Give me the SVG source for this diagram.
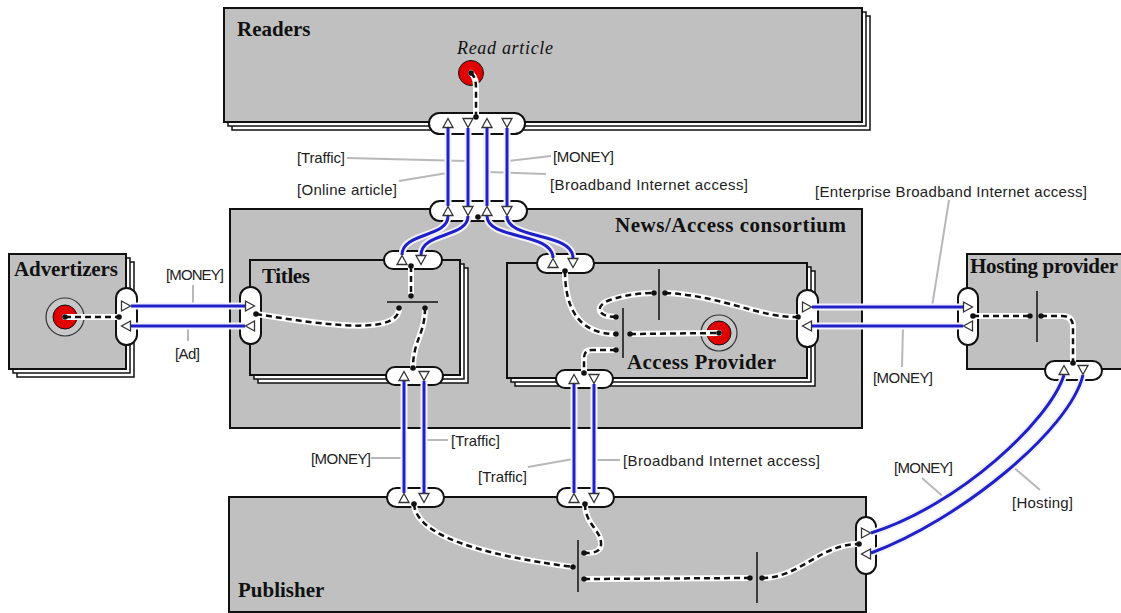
<svg xmlns="http://www.w3.org/2000/svg" width="1121" height="613" viewBox="0 0 1121 613">
<style>
.box{fill:#c0c0c0;stroke:#111;stroke-width:2}
.sh{fill:#fff;stroke:#111;stroke-width:1.5}
.pill{fill:#fff;stroke:#111;stroke-width:2}
.halo{fill:none;stroke:#f2f2ff;stroke-width:7}
.blue{fill:none;stroke:#2020c8;stroke-width:3}
.dh{fill:none;stroke:#fff;stroke-width:6;stroke-linecap:round}
.dash{fill:none;stroke:#111;stroke-width:2.5;stroke-dasharray:6 4}
.bar{stroke:#111;stroke-width:1.5}
.tri{fill:#fff;stroke:#333;stroke-width:1.3}
.lead{stroke:#b8b8b8;stroke-width:2;fill:none}
.lbl{font-family:"Liberation Sans",Arial,sans-serif;font-size:15px;fill:#222}
.ttl{font-family:"Liberation Serif","Times New Roman",serif;font-size:21px;font-weight:bold;fill:#111}
.it{font-family:"Liberation Serif","Times New Roman",serif;font-size:18px;font-style:italic;fill:#111}
.dot{fill:#111}
.red{fill:#e00000;stroke:#111;stroke-width:1}
.ring{fill:#c8c8c8;stroke:#333;stroke-width:1.2}
</style>
<defs>
<path id="tu" class="tri" d="M0,-4.5 L5,4.5 L-5,4.5 Z"/>
<path id="td" class="tri" d="M-5,-4.5 L5,-4.5 L0,4.5 Z"/>
<path id="tr" class="tri" d="M-4.5,-5 L4.5,0 L-4.5,5 Z"/>
<path id="tl" class="tri" d="M4.5,-5 L-4.5,0 L4.5,5 Z"/>
</defs>

<g id="readers">
<rect class="sh" x="232" y="16" width="638" height="114"/>
<rect class="sh" x="228" y="12" width="638" height="114"/>
<rect class="box" x="224" y="8" width="638" height="114"/>
<text class="ttl" x="237" y="36">Readers</text>
<text class="it" x="457" y="54" textLength="96">Read article</text>
<circle class="red" cx="471" cy="73" r="12.5"/>
<rect class="pill" x="429" y="113" width="96" height="21" rx="10.5"/>
</g>

<g id="advertizers">
<rect class="sh" x="17" y="262" width="117" height="115"/>
<rect class="sh" x="13" y="258" width="117" height="115"/>
<rect class="box" x="9" y="254" width="117" height="115"/>
<text class="ttl" x="14" y="276" textLength="104">Advertizers</text>
<circle class="ring" cx="65" cy="317" r="19"/>
<circle class="red" cx="65" cy="317" r="12"/>
<rect class="pill" x="116" y="288" width="21" height="57" rx="10.5"/>
</g>

<g id="news-access-consortium">
<rect class="box" x="230" y="209" width="632" height="219"/>
<text class="ttl" x="615" y="232" textLength="231">News/Access consortium</text>
<rect class="pill" x="430" y="201" width="97" height="20" rx="10"/>
</g>

<g id="titles">
<rect class="sh" x="258" y="268" width="210" height="115"/>
<rect class="sh" x="254" y="264" width="210" height="115"/>
<rect class="box" x="250" y="260" width="210" height="115"/>
<text class="ttl" x="262" y="283" textLength="48">Titles</text>
<line class="bar" x1="387" y1="302" x2="438" y2="302"/>
<rect class="pill" x="384" y="251" width="58" height="18" rx="9"/>
<rect class="pill" x="240" y="287" width="21" height="57" rx="10.5"/>
<rect class="pill" x="386" y="367" width="57" height="18" rx="9"/>
</g>

<g id="access-provider">
<rect class="sh" x="515" y="271" width="300" height="115"/>
<rect class="sh" x="511" y="267" width="300" height="115"/>
<rect class="box" x="507" y="263" width="300" height="115"/>
<text class="ttl" x="627" y="369" textLength="149">Access Provider</text>
<line class="bar" x1="623" y1="308" x2="623" y2="358"/>
<line class="bar" x1="659" y1="269" x2="659" y2="320"/>
<circle class="ring" cx="719" cy="333" r="18"/>
<circle class="red" cx="719" cy="333" r="12"/>
<rect class="pill" x="537" y="254" width="57" height="19" rx="9.5"/>
<rect class="pill" x="797" y="290" width="21" height="57" rx="10.5"/>
<rect class="pill" x="556" y="370" width="57" height="18" rx="9"/>
</g>

<g id="hosting-provider">
<rect class="box" x="967" y="254" width="200" height="115"/>
<text class="ttl" x="970" y="273" textLength="148">Hosting provider</text>
<line class="bar" x1="1037" y1="291" x2="1037" y2="342"/>
<rect class="pill" x="958" y="288" width="20" height="57" rx="10"/>
<rect class="pill" x="1045" y="361" width="57" height="19" rx="9.5"/>
</g>

<g id="publisher">
<rect class="box" x="229" y="497" width="637" height="115"/>
<text class="ttl" x="238" y="597">Publisher</text>
<line class="bar" x1="578" y1="540" x2="578" y2="592"/>
<line class="bar" x1="757" y1="552" x2="757" y2="603"/>
<rect class="pill" x="387" y="488" width="57" height="19" rx="9.5"/>
<rect class="pill" x="557" y="488" width="57" height="19" rx="9.5"/>
<rect class="pill" x="856" y="517" width="20" height="57" rx="10"/>
</g>

<g id="connectors">
<g id="leaders">
<line class="lead" x1="347" y1="158" x2="466" y2="161"/>
<line class="lead" x1="399" y1="181" x2="447" y2="173"/>
<line class="lead" x1="551" y1="156" x2="508" y2="161"/>
<line class="lead" x1="487" y1="172" x2="546" y2="174"/>
<line class="lead" x1="193" y1="285" x2="193" y2="306"/>
<line class="lead" x1="188" y1="326" x2="188" y2="341"/>
<line class="lead" x1="949" y1="200" x2="932" y2="307"/>
<line class="lead" x1="902" y1="367" x2="903" y2="326"/>
<line class="lead" x1="424" y1="440" x2="448" y2="440"/>
<line class="lead" x1="371" y1="458" x2="404" y2="458"/>
<line class="lead" x1="528" y1="467" x2="573" y2="459"/>
<line class="lead" x1="594" y1="460" x2="620" y2="460"/>
<line class="lead" x1="922" y1="478" x2="947" y2="500"/>
<line class="lead" x1="1012" y1="466" x2="1040" y2="490"/>
</g>
<g id="flows">
<path class="halo" d="M448,128 V206 M468,128 V206 M487,128 V206 M507,128 V206"/>
<path class="blue" d="M448,128 V206 M468,128 V206 M487,128 V206 M507,128 V206"/>
<path class="halo" d="M448,216 C448,238 402,232 402,255 M468,216 C468,238 421,232 421,255 M487,216 C487,240 553,232 553,258 M507,216 C507,240 573,232 573,258"/>
<path class="blue" d="M448,216 C448,238 402,232 402,255 M468,216 C468,238 421,232 421,255 M487,216 C487,240 553,232 553,258 M507,216 C507,240 573,232 573,258"/>
<path class="halo" d="M131,306 H245 M131,326 H245"/>
<path class="blue" d="M131,306 H245 M131,326 H245"/>
<path class="halo" d="M812,307 H963 M812,326 H963"/>
<path class="blue" d="M812,307 H963 M812,326 H963"/>
<path class="halo" d="M404,381 V493 M424,381 V493 M574,384 V493 M594,384 V493"/>
<path class="blue" d="M404,381 V493 M424,381 V493 M574,384 V493 M594,384 V493"/>
<path class="halo" d="M1064,375 C1050,420 960,505 871,533 M1083,375 C1070,430 960,520 871,553"/>
<path class="blue" d="M1064,375 C1050,420 960,505 871,533 M1083,375 C1070,430 960,520 871,553"/>
</g>
<g id="links">
<path class="dh" d="M471,73 C476,78 476,82 476,92 L476,117"/>
<path class="dash" d="M471,73 C476,78 476,82 476,92 L476,117"/>
<path class="dh" d="M65,317 L119,317"/>
<path class="dash" d="M65,317 L119,317"/>
<path class="dh" d="M256,314 C330,326 399,335 399,308 M411,266 L411,296 M425,308 C425,335 413,340 413,368"/>
<path class="dash" d="M256,314 C330,326 399,335 399,308 M411,266 L411,296 M425,308 C425,335 413,340 413,368"/>
<path class="dh" d="M565,271 C565,310 580,334 616,334 M616,317 C596,317 595,305 610,300 C625,295 640,293 654,293 M630,334 L719,333 M665,293 C720,295 760,318 798,317 M616,350 L592,350 Q584,350 584,358 L584,373"/>
<path class="dash" d="M565,271 C565,310 580,334 616,334 M616,317 C596,317 595,305 610,300 C625,295 640,293 654,293 M630,334 L719,333 M665,293 C720,295 760,318 798,317 M616,350 L592,350 Q584,350 584,358 L584,373"/>
<path class="dh" d="M973,316 L1030,316 M1041,316 L1062,316 Q1073,316 1073,327 L1073,363"/>
<path class="dash" d="M973,316 L1030,316 M1041,316 L1062,316 Q1073,316 1073,327 L1073,363"/>
<path class="dh" d="M414,504 C416,535 480,555 573,567 M585,504 C585,525 602,530 601,545 C600,553 592,553 584,553 M584,579 L750,578 M762,578 C800,578 820,544 859,544"/>
<path class="dash" d="M414,504 C416,535 480,555 573,567 M585,504 C585,525 602,530 601,545 C600,553 592,553 584,553 M584,579 L750,578 M762,578 C800,578 820,544 859,544"/>
</g>
<g id="labels">
<text class="lbl" x="297" y="163" textLength="48">[Traffic]</text>
<text class="lbl" x="297" y="195" textLength="100">[Online article]</text>
<text class="lbl" x="553" y="162" textLength="61">[MONEY]</text>
<text class="lbl" x="550" y="190" textLength="198">[Broadband Internet access]</text>
<text class="lbl" x="166" y="280" textLength="58">[MONEY]</text>
<text class="lbl" x="175" y="359" textLength="25">[Ad]</text>
<text class="lbl" x="815" y="197" textLength="272">[Enterprise Broadband Internet access]</text>
<text class="lbl" x="873" y="383" textLength="60">[MONEY]</text>
<text class="lbl" x="451" y="446" textLength="49">[Traffic]</text>
<text class="lbl" x="311" y="464" textLength="60">[MONEY]</text>
<text class="lbl" x="478" y="482" textLength="49">[Traffic]</text>
<text class="lbl" x="623" y="466" textLength="197">[Broadband Internet access]</text>
<text class="lbl" x="894" y="473" textLength="59">[MONEY]</text>
<text class="lbl" x="1012" y="508" textLength="61">[Hosting]</text>
</g>
</g>

<g id="port-markers">
<use href="#tu" x="448" y="123"/><use href="#td" x="468" y="123"/><use href="#tu" x="487" y="123"/><use href="#td" x="507" y="123"/>
<use href="#tu" x="448" y="211"/><use href="#td" x="468" y="211"/><use href="#tu" x="487" y="211"/><use href="#td" x="507" y="211"/>
<use href="#tu" x="402" y="260"/><use href="#td" x="421" y="260"/>
<use href="#tu" x="553" y="263"/><use href="#td" x="573" y="263"/>
<use href="#tu" x="404" y="376"/><use href="#td" x="424" y="376"/>
<use href="#tu" x="574" y="379"/><use href="#td" x="594" y="379"/>
<use href="#tu" x="1064" y="370"/><use href="#td" x="1083" y="370"/>
<use href="#tu" x="404" y="498"/><use href="#td" x="424" y="498"/>
<use href="#tu" x="574" y="498"/><use href="#td" x="594" y="498"/>
<use href="#tr" x="126" y="306"/><use href="#tl" x="126" y="326"/>
<use href="#tr" x="250" y="306"/><use href="#tl" x="250" y="326"/>
<use href="#tr" x="807" y="307"/><use href="#tl" x="807" y="326"/>
<use href="#tr" x="968" y="307"/><use href="#tl" x="968" y="326"/>
<use href="#tr" x="866" y="533"/><use href="#tl" x="866" y="554"/>
<g class="dot">
<circle cx="471" cy="73" r="2.8"/><circle cx="476" cy="117" r="2.8"/><circle cx="478" cy="217" r="2.8"/>
<circle cx="411" cy="266" r="2.8"/><circle cx="411" cy="296" r="2.8"/><circle cx="399" cy="308" r="2.8"/><circle cx="425" cy="308" r="2.8"/><circle cx="256" cy="314" r="2.8"/><circle cx="413" cy="368" r="2.8"/>
<circle cx="65" cy="317" r="2.8"/><circle cx="119" cy="317" r="2.8"/>
<circle cx="565" cy="271" r="2.8"/><circle cx="616" cy="317" r="2.8"/><circle cx="616" cy="334" r="2.8"/><circle cx="616" cy="350" r="2.8"/><circle cx="630" cy="334" r="2.8"/><circle cx="654" cy="293" r="2.8"/><circle cx="665" cy="293" r="2.8"/><circle cx="798" cy="317" r="2.8"/><circle cx="719" cy="333" r="2.8"/><circle cx="584" cy="373" r="2.8"/>
<circle cx="973" cy="316" r="2.8"/><circle cx="1030" cy="316" r="2.8"/><circle cx="1041" cy="316" r="2.8"/><circle cx="1073" cy="363" r="2.8"/>
<circle cx="414" cy="504" r="2.8"/><circle cx="585" cy="504" r="2.8"/><circle cx="573" cy="567" r="2.8"/><circle cx="584" cy="553" r="2.8"/><circle cx="584" cy="579" r="2.8"/><circle cx="750" cy="578" r="2.8"/><circle cx="762" cy="578" r="2.8"/><circle cx="859" cy="544" r="2.8"/>
</g>
</g>
</svg>
